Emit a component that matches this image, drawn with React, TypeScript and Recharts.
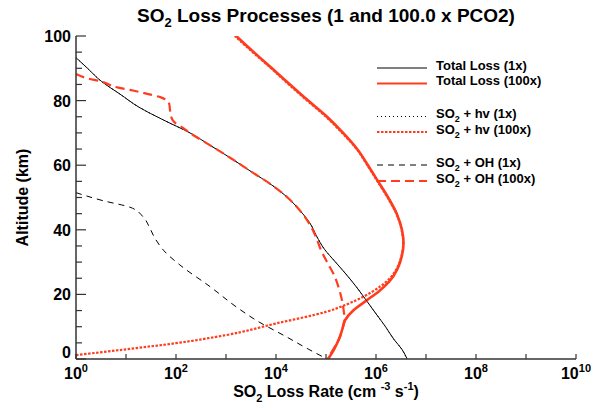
import { LineChart, Line, XAxis, YAxis, Label } from "recharts";

const W = 603;
const H = 406;
const RED = "#ff3c1e";
const AXIS = "#333";
const FONT = "'Liberation Sans', Arial, Helvetica, sans-serif";

// altitude in km, loss rate in cm^-3 s^-1
const totalAlt1x = [93.3, 90, 86, 82, 78, 74, 70, 66, 62, 58, 54, 50, 46, 42, 38, 34, 30, 26, 22, 18, 14, 10, 6, 3, 0];
const totalRate1x = [1, 1.7, 3.2, 7.6, 18, 56, 190, 500, 1.3e3, 3.2e3, 8e3, 1.7e4, 3.0e4, 4.8e4, 6.5e4, 9.3e4, 1.55e5, 2.6e5, 4.2e5, 6.5e5, 1.0e6, 1.55e6, 2.3e6, 3.3e6, 4.2e6];

const totalAlt100x = [100, 95, 90, 85, 80, 75, 70, 65, 60, 55, 50, 45, 40, 36, 32, 28, 24, 21, 18, 15, 12, 9, 6, 3, 0];
const totalRate100x = [1.6e3, 3.6e3, 8.3e3, 1.9e4, 4.4e4, 1.05e5, 2.2e5, 4.2e5, 6.9e5, 1.1e6, 1.75e6, 2.6e6, 3.3e6, 3.55e6, 3.3e6, 2.7e6, 1.85e6, 1.15e6, 6.3e5, 3.5e5, 2.4e5, 2.1e5, 1.8e5, 1.45e5, 1.1e5];

const hvAlt1x = [93.3, 90, 86, 82, 78, 74, 70, 66, 62, 58, 54, 50, 46, 42, 38, 34, 30, 26, 22, 18, 14, 10, 6, 3, 0];
const hvRate1x = [1, 1.7, 3.2, 7.6, 18, 56, 190, 500, 1.3e3, 3.2e3, 8e3, 1.7e4, 3.0e4, 4.8e4, 6.5e4, 9.3e4, 1.55e5, 2.6e5, 4.2e5, 6.5e5, 1.0e6, 1.55e6, 2.3e6, 3.3e6, 4.1e6];

const hvAlt100x = [1.2, 3, 4.9, 7.4, 11, 14.6, 16.8, 19.3, 22.4, 25, 28, 32, 36, 40, 45, 50, 55, 60, 65, 70, 75, 80, 85, 90, 95, 100];
const hvRate100x = [1, 10, 100, 1e3, 1e4, 1e5, 2.5e5, 5.6e5, 1.2e6, 1.9e6, 2.6e6, 3.25e6, 3.5e6, 3.25e6, 2.55e6, 1.7e6, 1.07e6, 6.7e5, 4.1e5, 2.1e5, 1.0e5, 4.2e4, 1.8e4, 8e3, 3.4e3, 1.5e3];

const ohAlt1x = [51.5, 49, 47, 44, 41, 38, 35, 33.7, 29.1, 22.4, 16, 12, 6.9, 3, 0];
const ohRate1x = [1, 3.5, 12, 22, 29, 36, 48, 56, 120, 480, 1.65e3, 4e3, 1.6e4, 4.5e4, 1.05e5];

const ohAlt100x = [88.2, 87, 85.9, 84, 83.3, 82, 81, 80, 79, 77, 75, 73.5, 71.5, 70, 66, 62, 58, 54, 50, 46, 42, 38, 34, 30, 26, 22, 18, 14, 12, 10, 6, 3, 0];
const ohRate100x = [1, 1.6, 3.2, 7, 12, 28, 50, 66, 73, 76, 80, 90, 140, 190, 500, 1.3e3, 3.2e3, 8e3, 1.7e4, 3.0e4, 4.6e4, 6.2e4, 7.8e4, 1.05e5, 1.45e5, 1.8e5, 2.1e5, 2.3e5, 2.35e5, 2.2e5, 1.8e5, 1.4e5, 1.05e5];

const xTicks = [1, 10, 100, 1e3, 1e4, 1e5, 1e6, 1e7, 1e8, 1e9, 1e10];
const yTicks = [0, 5, 10, 15, 20, 25, 30, 35, 40, 45, 50, 55, 60, 65, 70, 75, 80, 85, 90, 95, 100];

const pts = (alt: number[], rate: number[]) => alt.map((a, i) => ({ alt: a, v: rate[i] }));

const series = [
  { name: "Total Loss (1x)", data: pts(totalAlt1x, totalRate1x), color: "#000", width: 1, dash: undefined as string | undefined },
  { name: "Total Loss (100x)", data: pts(totalAlt100x, totalRate100x), color: RED, width: 2.6, dash: undefined },
  { name: "SO2 + hv (1x)", data: pts(hvAlt1x, hvRate1x), color: "#000", width: 1, dash: "1 3" },
  { name: "SO2 + hv (100x)", data: pts(hvAlt100x, hvRate100x), color: RED, width: 2.2, dash: "2.5 1.5" },
  { name: "SO2 + OH (1x)", data: pts(ohAlt1x, ohRate1x), color: "#000", width: 1, dash: "6 5" },
  { name: "SO2 + OH (100x)", data: pts(ohAlt100x, ohRate100x), color: RED, width: 2.2, dash: "9 5" },
];

const tickText = { fontFamily: FONT, fontWeight: "bold" as const, fill: "#000" };

function BottomTick({ x, y, payload }: any) {
  const exp = Math.round(Math.log10(payload.value));
  return (
    <g>
      <line x1={x} x2={x} y1={y} y2={y - 5} stroke={AXIS} strokeWidth={1.2} />
      {exp % 2 === 0 && (
        <text x={x} y={y + 20} textAnchor="middle" fontSize={16} {...tickText}>
          10<tspan dy={-7} fontSize={11}>{exp}</tspan>
        </text>
      )}
    </g>
  );
}

function TopTick({ x, y }: any) {
  return <line x1={x} x2={x} y1={y} y2={y + 5} stroke={AXIS} strokeWidth={1.2} />;
}

function LeftTick({ x, y, payload }: any) {
  const major = payload.value % 20 === 0;
  // the zero label sits a little above its tick, clear of the 10^0 label
  const dy = payload.value === 0 ? -1 : 6;
  return (
    <g>
      <line x1={x} x2={x + (major ? 10 : 6)} y1={y} y2={y} stroke={AXIS} strokeWidth={1.2} />
      {major && (
        <text x={x - 5} y={y + dy} textAnchor="end" fontSize={16} {...tickText}>
          {payload.value}
        </text>
      )}
    </g>
  );
}

function RightTick({ x, y, payload }: any) {
  const major = payload.value % 20 === 0;
  return <line x1={x} x2={x - (major ? 10 : 6)} y1={y} y2={y} stroke={AXIS} strokeWidth={1.2} />;
}

function XTitle({ viewBox }: any) {
  const cx = viewBox.x + viewBox.width / 2;
  return (
    <text x={cx} y={viewBox.y + 38} textAnchor="middle" fontSize={16} {...tickText}>
      SO<tspan dy={5} fontSize={11}>2</tspan>
      <tspan dy={-5}> Loss Rate (cm </tspan>
      <tspan dy={-7} fontSize={11}>-3</tspan>
      <tspan dy={7}> s</tspan>
      <tspan dy={-7} fontSize={11}>-1</tspan>
      <tspan dy={7}>)</tspan>
    </text>
  );
}

function YTitle({ viewBox }: any) {
  const cy = viewBox.y + viewBox.height / 2;
  const x = 28;
  return (
    <text x={x} y={cy} transform={`rotate(-90 ${x} ${cy})`} textAnchor="middle" fontSize={16} {...tickText}>
      Altitude (km)
    </text>
  );
}

function LegendOverlay() {
  const rows = [
    { s: series[0], y: 68 },
    { s: series[1], y: 83.5 },
    { s: series[2], y: 116.5 },
    { s: series[3], y: 132 },
    { s: series[4], y: 165 },
    { s: series[5], y: 181 },
  ];
  return (
    <svg width={W} height={H} style={{ position: "absolute", left: 0, top: 0, pointerEvents: "none" }}>
      <text x={326} y={22} textAnchor="middle" fontSize={19} {...tickText}>
        SO<tspan dy={5} fontSize={13}>2</tspan>
        <tspan dy={-5}> Loss Processes (1 and 100.0 x PCO2)</tspan>
      </text>
      {rows.map(({ s, y }) => {
        const isSO2 = s.name.startsWith("SO2");
        return (
          <g key={s.name}>
            <line x1={377} x2={427} y1={y} y2={y} stroke={s.color} strokeWidth={s.color === RED ? 2 : 1} strokeDasharray={s.dash} />
            <text x={436} y={y + 1.5} fontSize={13} {...tickText}>
              {isSO2 ? (
                <>
                  SO<tspan dy={4} fontSize={9}>2</tspan>
                  <tspan dy={-4}>{s.name.slice(3)}</tspan>
                </>
              ) : (
                s.name
              )}
            </text>
          </g>
        );
      })}
    </svg>
  );
}

export default function App() {
  return (
    <div style={{ position: "absolute", left: 0, top: 0, width: W, height: H, background: "#fff" }}>
      <LineChart width={W} height={H} layout="vertical" margin={{ top: 36, right: 27, bottom: 0, left: 0 }}>
        <XAxis
          type="number"
          scale="log"
          domain={[1, 1e10]}
          allowDataOverflow
          ticks={xTicks}
          interval={0}
          height={47}
          tickSize={0}
          tickMargin={0}
          tick={<BottomTick />}
          axisLine={{ stroke: AXIS, strokeWidth: 1.5 }}
        >
          <Label content={<XTitle />} />
        </XAxis>
        <XAxis
          xAxisId="top"
          orientation="top"
          type="number"
          scale="log"
          domain={[1, 1e10]}
          allowDataOverflow
          ticks={xTicks}
          interval={0}
          height={0}
          tickSize={0}
          tickMargin={0}
          tick={<TopTick />}
          axisLine={{ stroke: AXIS, strokeWidth: 1.5 }}
        />
        <YAxis
          type="number"
          dataKey="alt"
          domain={[0, 100]}
          reversed
          allowDataOverflow
          ticks={yTicks}
          interval={0}
          width={76}
          tickSize={0}
          tickMargin={0}
          tick={<LeftTick />}
          axisLine={{ stroke: AXIS, strokeWidth: 1.5 }}
        >
          <Label content={<YTitle />} />
        </YAxis>
        <YAxis
          yAxisId="right"
          orientation="right"
          type="number"
          domain={[0, 100]}
          reversed
          allowDataOverflow
          ticks={yTicks}
          interval={0}
          width={0}
          tickSize={0}
          tickMargin={0}
          tick={<RightTick />}
          axisLine={{ stroke: AXIS, strokeWidth: 1.5 }}
        />
        {series.map((s) => (
          <Line
            key={s.name}
            data={s.data}
            dataKey="v"
            type="monotone"
            stroke={s.color}
            strokeWidth={s.width}
            strokeDasharray={s.dash}
            dot={false}
            activeDot={false}
            isAnimationActive={false}
          />
        ))}
      </LineChart>
      <LegendOverlay />
    </div>
  );
}
